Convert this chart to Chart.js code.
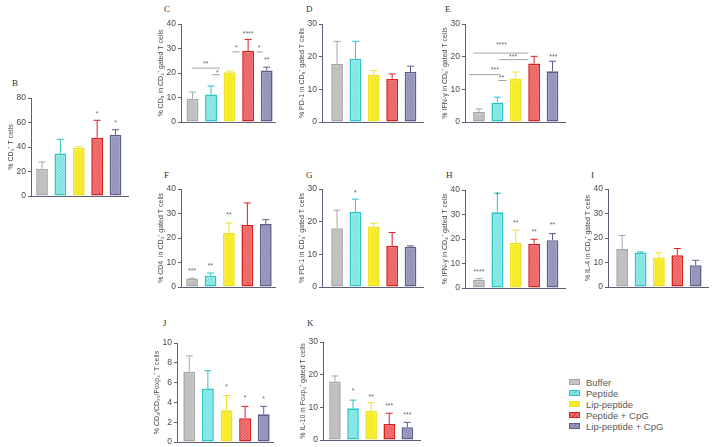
<!DOCTYPE html>
<html><head><meta charset="utf-8">
<script src="https://cdn.jsdelivr.net/npm/chart.js@4"></script>
<style>
html,body{margin:0;padding:0;background:#fff;width:714px;height:447px;overflow:hidden;position:relative;font-family:"Liberation Sans",Arial,sans-serif}
canvas{position:absolute}
.lt{position:absolute;font-family:"Liberation Serif",serif;font-size:9px;color:#333}
.leg{position:absolute;left:569px;font-size:9.5px;color:#5a5a5a}
.leg div{height:11px;line-height:11px;white-space:nowrap}
.sw{display:inline-block;width:9px;height:4px;margin-right:6px;vertical-align:middle;position:relative;top:-1px}
</style></head><body>
<script>
// ---- data ----
const groups = ["Buffer","Peptide","Lip-peptide","Peptide + CpG","Lip-peptide + CpG"];

const B_vals=[22.3,34.6,39.2,47.6,50.0], B_err=[27.8,46.3,40.3,61.8,54.1];
const C_vals=[9.5,11.2,20.3,29.0,21.0], C_err=[12.2,14.7,20.8,33.7,22.4];
const D_vals=[17.8,19.4,14.4,13.2,15.3], D_err=[24.7,24.7,15.7,14.7,17.1];
const E_vals=[3.1,6.0,13.3,17.9,15.5], E_err=[4.0,7.6,15.3,20.1,18.6];
const F_vals=[3.4,4.6,22.0,25.3,25.7], F_err=[3.6,5.7,26.1,34.3,27.5];
const G_vals=[18.0,23.0,18.5,12.6,12.3], G_err=[23.5,26.9,19.5,16.7,12.6];
const H_vals=[3.4,30.9,18.5,18.1,19.5], H_err=[3.8,38.7,23.6,19.9,22.2];
const I_vals=[15.5,14.1,12.0,13.0,8.9], I_err=[21.0,14.3,14.0,15.7,10.9];
const J_vals=[7.1,5.4,3.2,2.4,2.8], J_err=[8.7,7.2,4.7,3.6,3.6];
const K_vals=[17.9,9.7,8.9,4.9,3.9], K_err=[19.6,12.2,11.4,8.2,5.4];

// significance labels: [x position (group index), y value, text]
const B_stars=[[3,67.8,"*"],[4,60.4,"*"]];
const C_stars=[[3,36.6,"****"],[4,26,"**"],[0.71,24.3,"**"],[1.34,20.6,"*"],[2.37,30.9,"*"],[3.59,30.9,"*"]];
const E_stars=[[1.23,23.9,"****"],[1.86,20.3,"***"],[0.86,16.5,"***"],[1.23,13.8,"**"],[4.05,20.3,"***"]];
const F_stars=[[0,7.3,"***"],[1,9.1,"**"],[2,29.8,"**"]];
const G_stars=[[1,29.2,"*"]];
const H_stars=[[0,7.0,"****"],[1,38.6,"*"],[2,27.0,"**"],[3,23.3,"**"],[4,26.3,"**"]];
const J_stars=[[2,5.7,"*"],[3,4.6,"*"],[4,4.5,"*"]];
const K_stars=[[1,15.3,"*"],[2,13.6,"**"],[3,10.7,"***"],[4,8.0,"***"]];
// comparison lines: [from index, to index, y value]
const C_lines=[[-0.04,1.48,22],[1.04,1.48,19.3],[2.16,2.55,28.6],[3.45,3.8,28.6]];
const E_lines=[[-0.3,2.68,21.1],[1.1,2.68,19.1],[-0.54,1.14,14.5],[1.05,1.5,12.7]];

// ---- styles ----
const AX="#5f5f75", TICK="#4a4a4a";
function hatch(bg,line){
  const c=document.createElement("canvas");c.width=3;c.height=3;
  const x=c.getContext("2d");x.fillStyle=bg;x.fillRect(0,0,3,3);
  x.strokeStyle=line;x.lineWidth=0.6;x.beginPath();
  x.moveTo(0,3);x.lineTo(3,0);x.moveTo(-1,1);x.lineTo(1,-1);x.moveTo(2,4);x.lineTo(4,2);x.stroke();
  return x.createPattern(c,"repeat");
}
const fills=[hatch("#c4c4c4","#b2b2b2"),hatch("#95ebe9","#52d3d2"),"#f6ec2c",hatch("#f27676","#dc4040"),hatch("#9c9cc0","#7f7fa8")];
const borders=["#a6a6a6","#2cc4c4","#ece22a","#d61f1f","#5e5e8c"];

function panel(o){
  const YW=24,PT=8,PB=8,PR=4;
  const L=Math.round(o.ax)-YW, T=Math.round(o.top)-PT;
  const w=YW+Math.round(o.right-o.ax)+PR, h=PT+Math.round(o.bot-o.top)+PB;
  const cv=document.createElement("canvas");
  cv.width=w;cv.height=h;cv.style.left=L+"px";cv.style.top=T+"px";cv.style.width=w+"px";cv.style.height=h+"px";
  document.body.appendChild(cv);
  const lt=document.createElement("div");lt.className="lt";lt.textContent=o.letter;
  lt.style.left=o.lx+"px";lt.style.top=o.ly+"px";document.body.appendChild(lt);
  const annot={id:"annot",afterDatasetsDraw(ch){
    const c=ch.ctx,xs=ch.scales.x,ys=ch.scales.y;
    c.save();
    o.vals.forEach((v,i)=>{
      const x=xs.getPixelForValue(i),y0=ys.getPixelForValue(v),y1=ys.getPixelForValue(o.err[i]);
      c.strokeStyle=borders[i];c.lineWidth=1;c.beginPath();
      c.moveTo(x,y0);c.lineTo(x,y1);c.moveTo(x-3.5,y1);c.lineTo(x+3.5,y1);c.stroke();
    });
    c.strokeStyle="#8a8a8a";c.lineWidth=0.8;
    (o.lines||[]).forEach(l=>{const y=ys.getPixelForValue(l[2]);c.beginPath();c.moveTo(xs.getPixelForValue(l[0]),y);c.lineTo(xs.getPixelForValue(l[1]),y);c.stroke();});
    c.fillStyle="#6a6a6a";c.font="7px 'Liberation Sans'";c.textAlign="center";c.textBaseline="middle";
    (o.stars||[]).forEach(s=>{c.fillText(s[2],xs.getPixelForValue(s[0]),ys.getPixelForValue(s[1])+1.5);});
    c.restore();
  }};
  new Chart(cv.getContext("2d"),{
    type:"bar",
    data:{labels:groups,datasets:[{data:o.vals.map((v,i)=>({x:i,y:v})),backgroundColor:fills,borderColor:borders,borderWidth:1.6,borderSkipped:false,categoryPercentage:1,barPercentage:0.64}]},
    options:{responsive:false,animation:false,devicePixelRatio:1,
      layout:{padding:{top:PT,bottom:PB,right:PR,left:0}},
      plugins:{legend:{display:false},tooltip:{enabled:false}},
      scales:{
        x:{type:"linear",min:o.xmin,max:o.xmax,offset:false,ticks:{display:false},grid:{display:false,drawTicks:false},border:{display:true,color:AX,width:1},afterFit(s){s.height=0;}},
        y:{min:0,max:o.max,ticks:{stepSize:o.step,font:{size:8.5,family:"Liberation Sans"},color:TICK,padding:2},
           grid:{drawOnChartArea:false,drawTicks:true,tickLength:3,color:AX,tickColor:AX},border:{color:AX,width:1},
           title:{display:true,text:o.title,font:{size:7,family:"Liberation Sans"},color:"#4a4a4a",padding:0},
           afterFit(s){s.width=YW;}}
      }},
    plugins:[annot]
  });
}

panel({letter:"B",lx:12,ly:78,ax:31,right:128,top:98,bot:196,xmin:-0.6,xmax:4.68,max:80,step:20,vals:B_vals,err:B_err,stars:B_stars,title:"% CD₃⁺ T cells"});
panel({letter:"C",lx:164,ly:4,ax:181,right:275,top:24,bot:122,xmin:-0.62,xmax:4.45,max:40,step:10,vals:C_vals,err:C_err,stars:C_stars,lines:C_lines,title:"% CD₈ in CD₃⁺ gated T cells"});
panel({letter:"D",lx:306,ly:4,ax:322,right:423,top:24,bot:122,xmin:-0.82,xmax:4.68,max:30,step:10,vals:D_vals,err:D_err,title:"% PD-1 in CD₈⁺ gated T cells"});
panel({letter:"E",lx:445,ly:4,ax:465,right:565,top:24,bot:122,xmin:-0.76,xmax:4.68,max:30,step:10,vals:E_vals,err:E_err,stars:E_stars,lines:E_lines,title:"% IFN-γ in CD₈⁺ gated T cells"});
panel({letter:"F",lx:164,ly:170,ax:181,right:275,top:189,bot:287,xmin:-0.6,xmax:4.5,max:40,step:10,vals:F_vals,err:F_err,stars:F_stars,title:"% CD4  in CD₃⁺ gated T cells"});
panel({letter:"G",lx:306,ly:170,ax:322,right:423,top:189,bot:287,xmin:-0.82,xmax:4.68,max:30,step:10,vals:G_vals,err:G_err,stars:G_stars,title:"% PD-1 in CD₄⁺ gated T cells"});
panel({letter:"H",lx:446,ly:170,ax:465,right:565,top:190,bot:288,xmin:-0.76,xmax:4.68,max:40,step:10,vals:H_vals,err:H_err,stars:H_stars,title:"% IFN-γ in CD₄⁺ gated T cells"});
panel({letter:"I",lx:591,ly:170,ax:608,right:708,top:189,bot:287,xmin:-0.77,xmax:4.67,max:40,step:10,vals:I_vals,err:I_err,title:"% IL-4 in CD₄⁺ gated T cells"});
panel({letter:"J",lx:163,ly:318,ax:177,right:273,top:343,bot:442,xmin:-0.66,xmax:4.5,max:10,step:2,vals:J_vals,err:J_err,stars:J_stars,title:"% CD₄/CD₂₅/Foxp₃⁺ T cells"});
panel({letter:"K",lx:307,ly:318,ax:323,right:420,top:342,bot:440,xmin:-0.66,xmax:4.7,max:30,step:10,vals:K_vals,err:K_err,stars:K_stars,title:"% IL-10 in Foxp₃⁺ gated T cells"});

// legend
const swCss=["background:#c4c4c4;border:1px solid #a6a6a6","background:repeating-linear-gradient(135deg,#95ebe9 0 1.5px,#52d3d2 1.5px 2.5px);border:1px solid #2cc4c4","background:#f6ec2c;border:1px solid #ece22a","background:repeating-linear-gradient(135deg,#f27676 0 1.5px,#dc4040 1.5px 2.5px);border:1px solid #d61f1f","background:repeating-linear-gradient(135deg,#9c9cc0 0 1.5px,#7f7fa8 1.5px 2.5px);border:1px solid #5e5e8c"];
const leg=document.createElement("div");leg.className="leg";leg.style.top="377px";
groups.forEach((g,i)=>{const r=document.createElement("div");r.innerHTML='<span class="sw" style="'+swCss[i]+'"></span>';r.appendChild(document.createTextNode(g));leg.appendChild(r);});
document.body.appendChild(leg);
</script>
</body></html>
